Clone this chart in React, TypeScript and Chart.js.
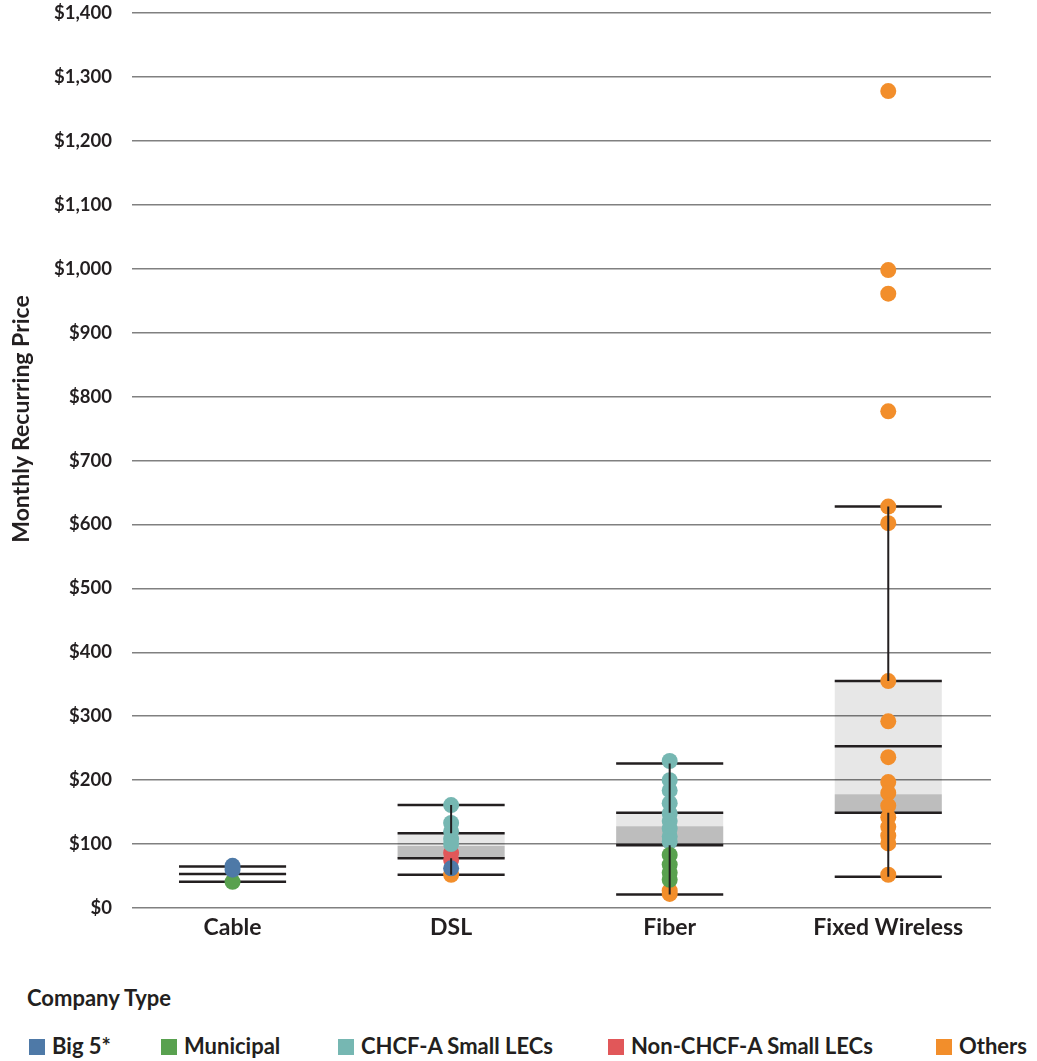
import React, { useEffect, useRef } from 'react';
import { Chart, registerables } from 'chart.js';

Chart.register(...registerables);

// ---------- data ----------
const categories = ['Cable', 'DSL', 'Fiber', 'Fixed Wireless'];

const whiskerHigh = [65, 161, 226, 628];
const boxHigh = [null, 117, 149, 355];
const boxSplit = [null, 97, 128, 178];
const boxLow = [null, 78, 98, 149];
const whiskerLow = [41, 52, 21, 49];
const middleLine = [53, null, null, 253];

const companyTypes = ['Big 5*', 'Municipal', 'CHCF-A Small LECs', 'Non-CHCF-A Small LECs', 'Others'];
const companyColors = ['#4e79a7', '#59a14f', '#76b7b2', '#e15759', '#f28e2b'];

// prices per category (Cable, DSL, Fiber, Fixed Wireless)
const big5Prices = [[66, 60], [62], [], []];
const municipalPrices = [[41], [], [83, 68, 55, 44], []];
const chcfPrices = [[], [161, 133, 120, 108, 100], [230, 200, 184, 164, 148, 136, 124, 112, 104], []];
const nonChcfPrices = [[], [86, 75], [], []];
const othersPrices = [
  [],
  [52],
  [27, 22],
  [1278, 998, 961, 777, 628, 602, 355, 292, 236, 197, 180, 160, 142, 127, 113, 101, 52],
];
const companyPrices = [big5Prices, municipalPrices, chcfPrices, nonChcfPrices, othersPrices];

const yMin = 0;
const yMax = 1400;
const yStep = 100;
const yTitle = 'Monthly Recurring Price';
const legendTitle = 'Company Type';

// ---------- styling ----------
const INK = '#231f20';
const FONT = 'Lato';
const HALF = 0.245;

export default function App() {
  const canvasRef = useRef<HTMLCanvasElement | null>(null);

  useEffect(() => {
    const canvas = canvasRef.current;
    if (!canvas) return;

    const darkBand = categories
      .map((_, i) => (boxLow[i] != null ? { x: i, y: [boxLow[i], boxSplit[i]] } : null))
      .filter(Boolean);
    const lightBand = categories
      .map((_, i) => (boxHigh[i] != null ? { x: i, y: [boxSplit[i], boxHigh[i]] } : null))
      .filter(Boolean);

    const hLines: any[] = [];
    categories.forEach((_, i) => {
      [whiskerHigh[i], boxHigh[i], middleLine[i], boxLow[i], whiskerLow[i]].forEach((v) => {
        if (v == null) return;
        hLines.push({ x: i - HALF, y: v }, { x: i + HALF, y: v }, { x: i, y: null });
      });
    });

    const vLines: any[] = [];
    categories.forEach((_, i) => {
      if (boxHigh[i] == null) return;
      vLines.push({ x: i, y: whiskerHigh[i] }, { x: i, y: boxHigh[i] }, { x: i, y: null });
      vLines.push({ x: i, y: boxLow[i] }, { x: i, y: whiskerLow[i] }, { x: i, y: null });
    });

    const scatterSets = companyTypes.map((name, k) => ({
      type: 'scatter' as const,
      label: name,
      data: companyPrices[k].flatMap((vals, i) => vals.map((v) => ({ x: i, y: v }))),
      pointRadius: 8,
      pointHoverRadius: 8,
      pointBackgroundColor: companyColors[k],
      backgroundColor: companyColors[k],
      pointBorderWidth: 0,
      borderWidth: 0,
      order: 2,
    }));

    const chart = new Chart(canvas, {
      type: 'bar',
      data: {
        datasets: [
          {
            type: 'line',
            label: 'whiskers',
            data: vLines,
            borderColor: INK,
            borderWidth: 2,
            pointRadius: 0,
            spanGaps: false,
            fill: false,
            order: 1,
          } as any,
          ...scatterSets,
          {
            type: 'line',
            label: 'levels',
            data: hLines,
            borderColor: INK,
            borderWidth: 2.5,
            pointRadius: 0,
            spanGaps: false,
            fill: false,
            order: 4,
          } as any,
          {
            type: 'bar',
            label: 'upper box',
            data: lightBand,
            backgroundColor: 'rgba(0,0,0,0.095)',
            borderWidth: 0,
            barPercentage: 0.49,
            categoryPercentage: 1,
            grouped: false,
            order: 5,
          } as any,
          {
            type: 'bar',
            label: 'lower box',
            data: darkBand,
            backgroundColor: 'rgba(0,0,0,0.26)',
            borderWidth: 0,
            barPercentage: 0.49,
            categoryPercentage: 1,
            grouped: false,
            order: 5,
          } as any,
        ],
      },
      options: {
        animation: false,
        responsive: true,
        maintainAspectRatio: false,
        events: [],
        layout: { padding: { left: 0, right: 46, top: 0, bottom: 0 } },
        plugins: {
          legend: { display: false },
          tooltip: { enabled: false },
          title: { display: false },
        },
        scales: {
          x: {
            type: 'linear',
            offset: false,
            min: -0.46,
            max: 3.47,
            grid: { display: false, drawTicks: false, offset: false },
            border: { display: false },
            afterBuildTicks: (scale: any) => {
              scale.ticks = categories.map((_, i) => ({ value: i }));
            },
            afterFit: (scale: any) => {
              scale.height = 52;
            },
            ticks: {
              autoSkip: false,
              maxRotation: 0,
              padding: 6,
              color: INK,
              font: { family: FONT, size: 23, weight: 'bold' },
              callback: (v: any) => categories[v as number] ?? '',
            },
          },
          y: {
            type: 'linear',
            min: yMin,
            max: yMax,
            grid: { color: '#808080', lineWidth: 1.5, drawTicks: false },
            border: { display: false },
            afterFit: (scale: any) => {
              scale.width = 132;
            },
            ticks: {
              stepSize: yStep,
              padding: 20,
              color: INK,
              font: { family: FONT, size: 18.5, weight: 'bold' },
              callback: (v: any) => '$' + Number(v).toLocaleString('en-US'),
            },
            title: { display: false },
          },
        },
      } as any,
    });

    return () => chart.destroy();
  }, []);

  const legendLeft = [29, 161, 338, 608, 936];

  return (
    <div
      style={{
        position: 'absolute',
        left: 0,
        top: 0,
        width: 1037,
        height: 1061,
        background: '#ffffff',
        fontFamily: FONT,
        color: INK,
        overflow: 'hidden',
      }}
    >
      <div style={{ position: 'absolute', left: 0, top: -18, width: 1037, height: 978 }}>
        <canvas ref={canvasRef} />
      </div>
      <div
        style={{
          position: 'absolute',
          left: 20 - 150,
          top: 419 - 14,
          width: 300,
          height: 28,
          lineHeight: '28px',
          textAlign: 'center',
          fontSize: 23,
          fontWeight: 700,
          whiteSpace: 'nowrap',
          transform: 'rotate(-90deg)',
          transformOrigin: '50% 50%',
        }}
      >
        {yTitle}
      </div>
      <div
        style={{
          position: 'absolute',
          left: 27,
          top: 985,
          fontSize: 22,
          lineHeight: '26.4px',
          fontWeight: 700,
          whiteSpace: 'nowrap',
        }}
      >
        {legendTitle}
      </div>
      {companyTypes.map((name, k) => (
        <div
          key={name}
          style={{
            position: 'absolute',
            left: legendLeft[k],
            top: 1033,
            height: 27,
            display: 'flex',
            alignItems: 'flex-start',
            whiteSpace: 'nowrap',
          }}
        >
          <span
            style={{
              display: 'inline-block',
              width: 16,
              height: 16,
              marginTop: 6,
              background: companyColors[k],
            }}
          />
          <span
            style={{
              marginLeft: 7,
              fontSize: 22,
              lineHeight: '26.4px',
              fontWeight: 700,
            }}
          >
            {name}
          </span>
        </div>
      ))}
    </div>
  );
}
